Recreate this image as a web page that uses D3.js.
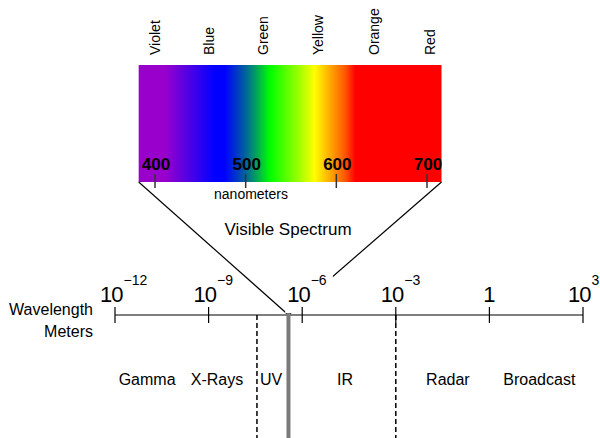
<!DOCTYPE html>
<html>
<head>
<meta charset="utf-8">
<script src="https://cdn.jsdelivr.net/npm/d3@7"></script>
<style>
  body { margin: 0; background: #fff; }
  svg text { font-family: "Liberation Sans", Arial, sans-serif; fill: #000; }
</style>
</head>
<body>
<svg id="chart" width="600" height="438"></svg>
<script>
// colour names over the spectrum (nm)
var colorNames = ['Violet', 'Blue', 'Green', 'Yellow', 'Orange', 'Red'];
var colorNm = [400, 460, 519, 580, 642, 703];

// gradient stops of the visible band
var stopNm = [382, 411, 466, 477, 499, 510, 527, 558, 576, 593, 610, 621, 716];
var stopColor = ['#9900cc', '#9900cc', '#0000ff', '#0000ff', '#005fa0', '#009966',
                 '#00ff00', '#99ff00', '#ffff00', '#ffaa00', '#ff5500', '#ff0000', '#ff0000'];

var nmTicks = [400, 500, 600, 700];

// wavelength axis, log10 of metres
var expTicks = [-12, -9, -6, -3, 0, 3];
var regions = ['Gamma', 'X-Rays', 'UV', 'IR', 'Radar', 'Broadcast'];
var regionPos = [-10.97, -8.73, -7.0, -4.63, -1.33, 1.6];
var dashedAt = [-7.45, -3];
var visibleAt = -6.44;

var svg = d3.select('#chart');

var nm = d3.scaleLinear().domain([400, 700]).range([155, 427]);
var x = d3.scaleLinear().domain([-12, 3]).range([115, 583]);
var axisY = 315;
var bandTop = 65, bandBottom = 182;

// gradient
var grad = svg.append('defs').append('linearGradient')
    .attr('id', 'spec')
    .attr('gradientUnits', 'userSpaceOnUse')
    .attr('x1', nm(stopNm[0])).attr('x2', nm(stopNm[stopNm.length - 1]))
    .attr('y1', 0).attr('y2', 0);
var span = stopNm[stopNm.length - 1] - stopNm[0];
grad.selectAll('stop')
  .data(stopNm)
  .join('stop')
    .attr('offset', d => (d - stopNm[0]) / span)
    .attr('stop-color', (d, i) => stopColor[i]);

svg.append('rect')
    .attr('x', nm(stopNm[0]))
    .attr('y', bandTop)
    .attr('width', nm(stopNm[stopNm.length - 1]) - nm(stopNm[0]))
    .attr('height', bandBottom - bandTop)
    .attr('fill', 'url(#spec)');

// colour names, rotated
svg.selectAll('.cname')
  .data(colorNames)
  .join('text')
    .attr('class', 'cname')
    .attr('transform', (d, i) => `translate(${nm(colorNm[i])},55) rotate(-90)`)
    .attr('dy', '0.35em')
    .style('font-size', '14px')
    .text(d => d);

// nm ticks + labels
svg.selectAll('.nmtick')
  .data(nmTicks)
  .join('line')
    .attr('class', 'nmtick')
    .attr('x1', d => nm(d)).attr('x2', d => nm(d))
    .attr('y1', 174).attr('y2', 188)
    .attr('stroke', '#333').attr('stroke-width', 1.5);

svg.selectAll('.nmlab')
  .data(nmTicks)
  .join('text')
    .attr('class', 'nmlab')
    .attr('x', d => nm(d) + 1)
    .attr('y', 170)
    .attr('text-anchor', 'middle')
    .style('font-size', '17px')
    .style('font-weight', 'bold')
    .text(d => d);

svg.append('text')
    .attr('x', 251).attr('y', 199)
    .attr('text-anchor', 'middle')
    .style('font-size', '14px')
    .text('nanometers');

svg.append('text')
    .attr('x', 288).attr('y', 235)
    .attr('text-anchor', 'middle')
    .style('font-size', '17px')
    .text('Visible Spectrum');

// funnel lines from band to axis
svg.selectAll('.funnel')
  .data([stopNm[0], stopNm[stopNm.length - 1]])
  .join('line')
    .attr('class', 'funnel')
    .attr('x1', d => nm(d)).attr('y1', bandBottom)
    .attr('x2', x(visibleAt)).attr('y2', axisY)
    .attr('stroke', '#000').attr('stroke-width', 1.2);

// tick labels 10^n
var labs = svg.selectAll('.explab')
  .data(expTicks)
  .join('text')
    .attr('class', 'explab')
    .attr('y', 302)
    .style('font-size', '22px');

labs.each(function(d) {
  var t = d3.select(this);
  if (d === 0) {
    t.attr('x', x(d)).attr('text-anchor', 'middle').text('1');
  } else {
    t.attr('x', x(d) - 15);
    t.append('tspan').style('letter-spacing', '-1px').text('10');
    t.append('tspan')
        .attr('dx', 1)
        .attr('dy', -17)
        .style('font-size', '14px')
        .text(String(d).replace('-', '\u2212'));
  }
});

// white patch behind 10^-6 so the funnel line breaks there
labs.filter(d => d === -6).each(function() {
  var b = this.getBBox();
  svg.insert('rect', '.explab')
      .attr('x', b.x - 2).attr('y', b.y - 2)
      .attr('width', b.width + 8).attr('height', b.height + 8)
      .attr('fill', '#fff');
});

// axis
svg.append('line')
    .attr('x1', x(-12)).attr('x2', x(3))
    .attr('y1', axisY).attr('y2', axisY)
    .attr('stroke', '#000').attr('stroke-width', 1.2);

svg.selectAll('.exptick')
  .data(expTicks)
  .join('line')
    .attr('class', 'exptick')
    .attr('x1', d => x(d)).attr('x2', d => x(d))
    .attr('y1', 307).attr('y2', 323)
    .attr('stroke', '#000').attr('stroke-width', 1.2);

// region borders
svg.selectAll('.dash')
  .data(dashedAt)
  .join('line')
    .attr('class', 'dash')
    .attr('x1', d => x(d)).attr('x2', d => x(d))
    .attr('y1', axisY).attr('y2', 438)
    .attr('stroke', '#000').attr('stroke-width', 1.5)
    .attr('stroke-dasharray', '5,3');

svg.append('line')
    .attr('x1', x(visibleAt)).attr('x2', x(visibleAt))
    .attr('y1', 313).attr('y2', 438)
    .attr('stroke', '#7a7a7a').attr('stroke-width', 4);

svg.selectAll('.region')
  .data(regions)
  .join('text')
    .attr('class', 'region')
    .attr('x', (d, i) => x(regionPos[i]))
    .attr('y', 385)
    .attr('text-anchor', 'middle')
    .style('font-size', '16px')
    .text(d => d);

svg.append('text')
    .attr('x', 93).attr('y', 315)
    .attr('text-anchor', 'end')
    .style('font-size', '16px')
    .text('Wavelength');
svg.append('text')
    .attr('x', 93).attr('y', 337)
    .attr('text-anchor', 'end')
    .style('font-size', '16px')
    .text('Meters');
</script>
</body>
</html>
